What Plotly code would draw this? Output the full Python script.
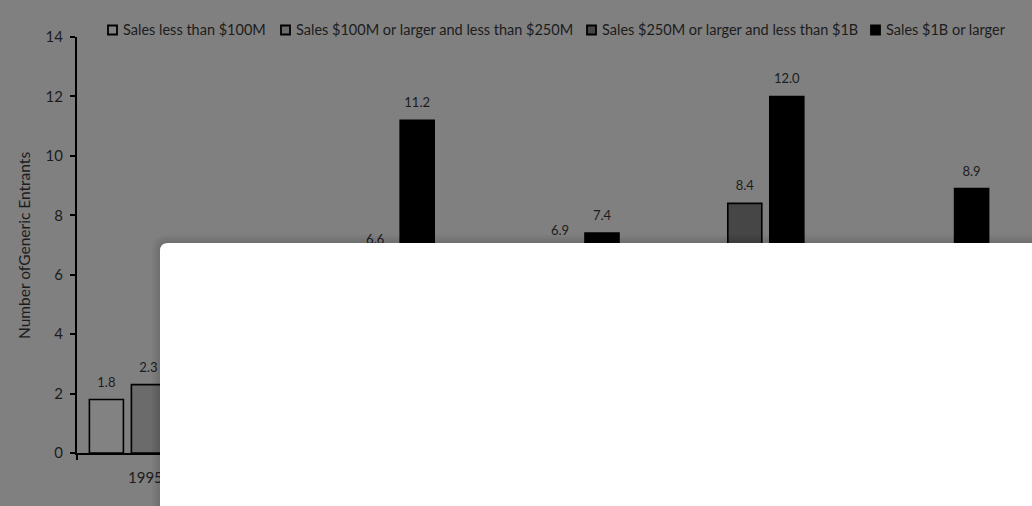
import plotly.graph_objects as go

# ---- data -------------------------------------------------------------
periods = ["1995 - 1998", "1999 - 2002", "2003 - 2006", "2007 - 2010", "2011 - 2014"]
series_names = [
    "Sales less than $100M",
    "Sales $100M or larger and less than $250M",
    "Sales $250M or larger and less than $1B",
    "Sales $1B or larger",
]
sales_lt_100m = [1.8, 2.0, 2.2, 2.6, 3.0]
sales_100m_250m = [2.3, 3.4, 4.1, 5.2, 4.8]
sales_250m_1b = [3.1, 6.6, 6.9, 8.4, 6.0]
sales_1b_plus = [4.5, 11.2, 7.4, 12.0, 8.9]
y_ticks = [0, 2, 4, 6, 8, 10, 12, 14]

series_values = [sales_lt_100m, sales_100m_250m, sales_250m_1b, sales_1b_plus]

# ---- styling ----------------------------------------------------------
W, H = 1032, 506
ML, MR, MT, MB = 77, 31, 37, 53
PW, PH = W - ML - MR, H - MT - MB
BG = "#808080"
INK = "#1c1c1c"
FONT = "Lato"
fills = ["#828282", "#6b6b6b", "#464646", "#000000"]
BARGAP = 0.091
GROUPGAP = 0.19


def px(x):
    return (x - ML) / PW


def py(y):
    return (H - MB - y) / PH


fig = go.Figure()

for name, vals, col in zip(series_names, series_values, fills):
    fig.add_trace(go.Bar(
        x=periods, y=vals, name=name,
        marker=dict(color=col, line=dict(color="#000000", width=1.6)),
        hoverinfo="skip", showlegend=False,
    ))

# value labels, positioned with the same grouping as the bars
for name, vals in zip(series_names, series_values):
    fig.add_trace(go.Scatter(
        x=periods, y=vals, mode="markers+text",
        text=[f"{v:.1f}" for v in vals], textposition="top center",
        textfont=dict(family=FONT, size=13, color=INK),
        marker=dict(size=14, color="rgba(0,0,0,0)"),
        cliponaxis=False, hoverinfo="skip", showlegend=False,
    ))

shapes = []
annotations = []

# legend row
legend_marker_px = [108, 281, 587, 871]
legend_y = 30
for name, col, x0 in zip(series_names, fills, legend_marker_px):
    shapes.append(dict(
        type="rect", xref="paper", yref="paper",
        x0=px(x0), x1=px(x0 + 9), y0=py(legend_y + 4.5), y1=py(legend_y - 4.5),
        fillcolor=col, line=dict(color="#000000", width=1.8), layer="above",
    ))
    annotations.append(dict(
        xref="paper", yref="paper", x=px(x0 + 13), y=py(legend_y),
        xanchor="left", yanchor="middle", showarrow=False, text=name,
        font=dict(family=FONT, size=14.5, color=INK),
    ))

# y-axis title
annotations.append(dict(
    xref="paper", yref="paper", x=px(24), y=py(246),
    xanchor="center", yanchor="middle", showarrow=False, textangle=-90,
    text="Number ofGeneric Entrants",
    font=dict(family=FONT, size=15.5, color=INK),
))


# white panel with soft shadow and a rounded top-left corner
def rounded_panel(x0, y0, x1, y1, r):
    return (f"M{px(x0)},{py(y1)} L{px(x0)},{py(y0 + r)} "
            f"Q{px(x0)},{py(y0)} {px(x0 + r)},{py(y0)} "
            f"L{px(x1)},{py(y0)} L{px(x1)},{py(y1)} Z")


for grow in (8, 6, 4, 2):
    shapes.append(dict(
        type="path", xref="paper", yref="paper",
        path=rounded_panel(160 - grow, 243 - grow, 1060, 540, 8 + grow),
        fillcolor="rgba(0,0,0,0.03)", line=dict(width=0), layer="above",
    ))
shapes.append(dict(
    type="path", xref="paper", yref="paper",
    path=rounded_panel(160, 243, 1060, 540, 8),
    fillcolor="#ffffff", line=dict(width=0), layer="above",
))

fig.update_layout(
    width=W, height=H,
    margin=dict(l=ML, r=MR, t=MT, b=MB, pad=0),
    paper_bgcolor=BG, plot_bgcolor=BG,
    barmode="group", bargap=BARGAP, bargroupgap=GROUPGAP,
    scattermode="group", scattergap=BARGAP,
    showlegend=False,
    shapes=shapes, annotations=annotations,
    font=dict(family=FONT, color=INK),
    xaxis=dict(
        showgrid=False, zeroline=False, showline=True, linecolor="#000000", linewidth=2,
        ticks="outside", tickson="boundaries", ticklen=5, tickcolor="#000000", tickwidth=1.5,
        tickfont=dict(family=FONT, size=15, color=INK), ticklabelstandoff=10,
        fixedrange=True,
    ),
    yaxis=dict(
        range=[0, 14], tickvals=y_ticks, showgrid=False, zeroline=False,
        showline=True, linecolor="#000000", linewidth=2,
        ticks="outside", ticklen=5, tickcolor="#000000", tickwidth=1.5,
        tickfont=dict(family=FONT, size=15, color=INK), ticklabelstandoff=4,
        fixedrange=True,
    ),
)

fig.write_html("out.html", config={"displayModeBar": False})
